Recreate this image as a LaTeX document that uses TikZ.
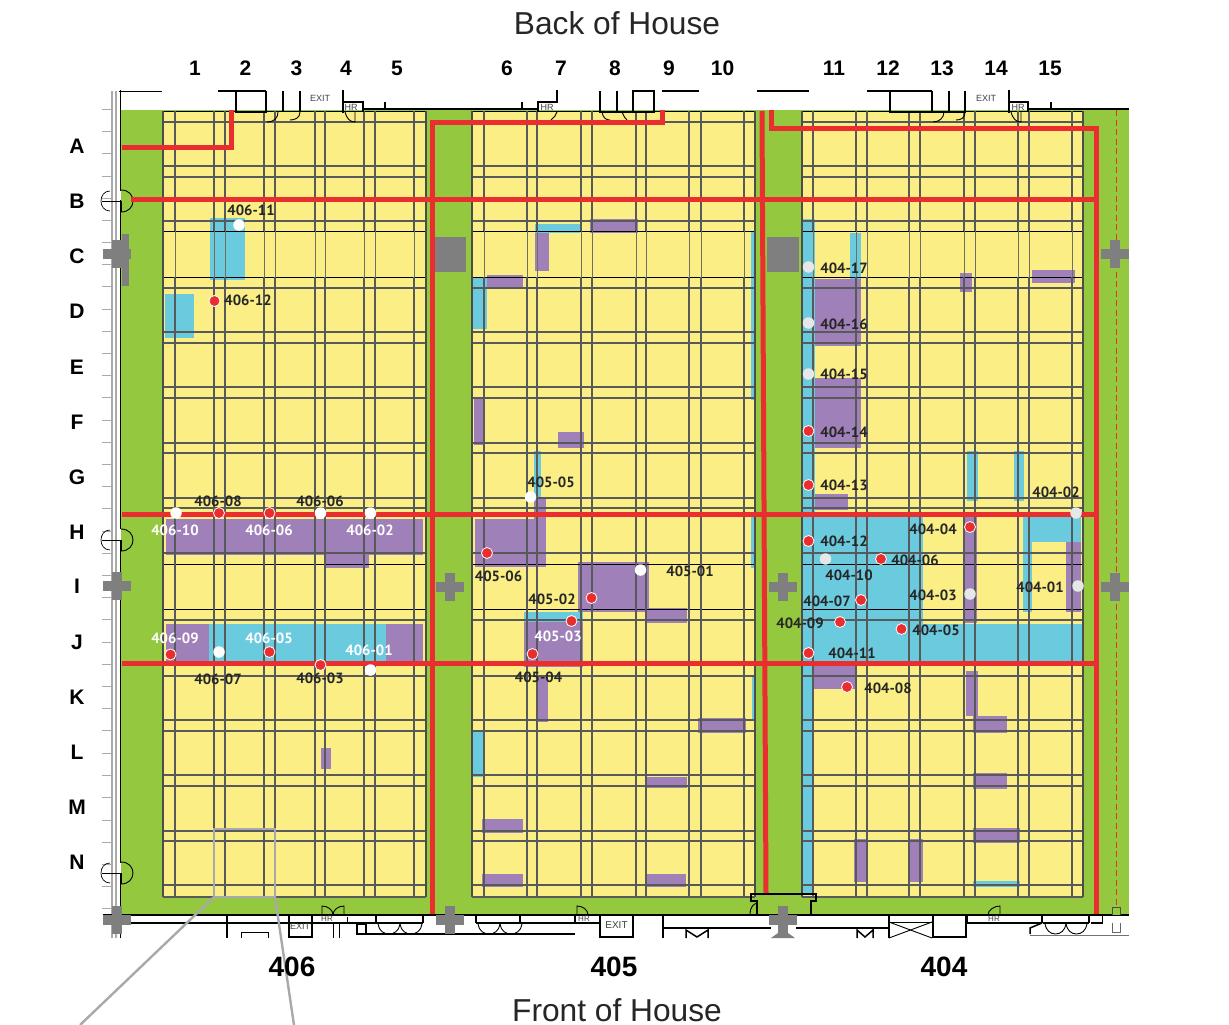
\documentclass[tikz,border=0pt]{standalone}
\usepackage{fontspec}
\setmainfont{Liberation Sans}
\newfontfamily\lblfont{PT Sans}
\definecolor{cgreen}{HTML}{94C83E}
\definecolor{cyell}{HTML}{FAEE85}
\definecolor{ccyan}{HTML}{6BCBDE}
\definecolor{cpurp}{HTML}{A080B8}
\definecolor{cred}{HTML}{EA2D2E}
\definecolor{cgray}{HTML}{7F7F7F}
\definecolor{cgrid}{HTML}{58595B}
\definecolor{cfade}{HTML}{6F6F62}
\definecolor{cwall}{HTML}{A9A9A9}
\definecolor{cdot}{HTML}{E6E7E8}
\definecolor{czoom}{HTML}{A7A9AC}
\tikzset{
  redline/.style={draw=cred,line width=5pt,line join=miter},
  gridline/.style={draw=cgrid,line width=1.2pt},
  fadeline/.style={draw=cfade,line width=1pt},
  blackgrid/.style={draw=black,line width=1pt},
  wallthick/.style={draw=black,line width=1.5pt},
  wallthin/.style={draw=black,line width=.9pt},
  reddot/.style={circle,fill=cred,draw=white,line width=.8pt,minimum size=11pt,inner sep=0pt},
  whitedot/.style={circle,fill=white,minimum size=11.5pt,inner sep=0pt},
  greydot/.style={circle,fill=cdot,minimum size=11.5pt,inner sep=0pt},
  lbl/.style={font=\lblfont\fontsize{14.8}{15}\selectfont\bfseries,text=black!85,inner sep=0pt,yshift=-.7pt},
  lblw/.style={lbl,text=white},
  axis/.style={font=\fontsize{21}{22}\selectfont\bfseries,text=black,inner sep=0pt},
  title/.style={font=\fontsize{31.7}{33}\selectfont,text=black!85,inner sep=0pt},
  sect/.style={font=\fontsize{28}{30}\selectfont\bfseries,text=black,inner sep=0pt},
  small/.style={font=\fontsize{9}{10}\selectfont,text=black!75,inner sep=0pt},
  zoombox/.style={draw=czoom,line width=2.4pt},
}
\begin{document}
\begin{tikzpicture}[x=1pt,y=-1pt]
\useasboundingbox (0,0) rectangle (1229,1025);
% green and yellow ground
\fill[cgreen] (121,110) rectangle (1129,915);
\fill[cyell] (163,111) rectangle (426,897);
\fill[cyell] (472,111) rectangle (755,897);
\fill[cyell] (802,111) rectangle (1083,897);
% cyan patches
\foreach \a/\b/\c/\d in {210/218/245/280,165/294/194/338,209/624/386/662,
 535/224/580/233,473/277/487/329,534/451/541/498,524/612/583/622,751/512/755/568,752/675/755/720,473/730/485/777,751/232/755/400,
 803/219/815/515,802/515/923/662,923/624/1083/662,802/662/813/893,850/233/861/279,967/451/978/501,1014/451/1024/501,
 1023/517/1032/612,1023/517/1081/542,973/881/1020/887}
  \fill[ccyan] (\a,\b) rectangle (\c,\d);
% purple patches
\foreach \a/\b/\c/\d in {166/519/423/555,326/555/369/568,166/624/209/662,386/624/423/662,321/748/331/769,
 535/233/549/271,590/219/638/233,487/275/523/289,474/397/485/445,558/432/584/448,534/498/546/519,475/519/546/567,
 578/562/649/612,645/608/687/623,524/622/583/667,537/677/548/722,698/718/746/733,645/777/687/788,482/819/523/833,482/874/523/887,645/874/686/887,
 815/279/861/346,815/378/861/448,960/273/972/292,1032/270/1075/283,815/494/848/510,963/515/977/623,1066/542/1081/612,
 814/663/855/689,966/671/978/716,973/716/1007/733,973/773/1007/789,973/828/1020/843,854/839/868/882,908/839/923/882}
  \fill[cpurp] (\a,\b) rectangle (\c,\d);
% grey blocks
\fill[cgray] (122,234) rectangle (129,286);
\fill[cgray] (435,237) rectangle (466,272);
\fill[cgray] (767,237) rectangle (799,272);
% grid: horizontals
\foreach \y in {122,166,177,221,288,332,343,387,398,443,453,498,508,553,620,665,676,720,731,775,786,831,841,885}{
  \draw[gridline] (163,\y) -- (426,\y);
  \draw[gridline] (472,\y) -- (755,\y);
  \draw[gridline] (802,\y) -- (1083,\y);
}
\foreach \y in {231,277,564,609}{
  \draw[blackgrid] (163,\y) -- (426,\y);
  \draw[blackgrid] (472,\y) -- (755,\y);
  \draw[blackgrid] (802,\y) -- (1083,\y);
}
\foreach \y in {111}{
  \draw[wallthin] (163,\y) -- (426,\y);
  \draw[wallthin] (472,\y) -- (755,\y);
  \draw[wallthin] (802,\y) -- (1083,\y);
}
% grid: verticals
\foreach \x in {175,214,225,264,275,315,325,364,375,414,484,527,537,581,592,636,646,689,701,744,813,856,867,909,920,964,975,1018,1029,1072}{
  \draw[gridline] (\x,111) -- (\x,231);
  \draw[fadeline] (\x,231) -- (\x,277);
  \draw[gridline] (\x,277) -- (\x,897);
}
\foreach \x in {163,426,472,755,802,1083}
  \draw[draw=black!70,line width=1.2pt] (\x,111) -- (\x,897);
\draw[gridline] (163,897) -- (426,897);
\draw[gridline] (472,897) -- (755,897);
\draw[gridline] (802,897) -- (1083,897);
% dashed line at right
\draw[draw=cred,line width=1pt,dash pattern=on 6pt off 3.5pt] (1116,110) -- (1116,907);
% left wall
\foreach \y in {109,131,153,176,198,220,242,264,286,309,331,353,375,397,420,442,464,486,508,531,553,575,597,619,642,664,686,708,730,753,775,797,820,842,864,886,908}
  \draw[draw=cwall,line width=1pt] (102,\y) -- (111,\y);
\draw[draw=cwall,line width=1.5pt] (112,91) -- (112,938);
\draw[draw=cwall,line width=1.5pt] (116,91) -- (116,938);
\foreach \a/\b in {90/191,200/529,540/863,873/938}
  \draw[draw=black,line width=1.4pt] (120.5,\a) -- (120.5,\b);
\draw[wallthin] (119,91) -- (162,91);
\foreach \y in {201,540,873}{
  \draw[wallthin] (121,\y-11) .. controls (137,\y-11) and (137,\y+11) .. (121,\y+11);
  \draw[draw=black,line width=.7pt] (110,\y-10) .. controls (98,\y-10) and (98,\y+10) .. (110,\y+10);
  \draw[draw=black,line width=.7pt] (102,\y) -- (120,\y);
  \draw[draw=black,line width=1.4pt] (121.5,\y) -- (121.5,\y+11);
}
% top wall, bay 406
\draw[wallthick] (218,91) -- (266,91);
\draw[wallthick] (236,91) -- (236,112) -- (266,112) -- (266,91);
\draw[wallthick] (283,91) -- (283,112);
\draw[wallthick] (300,91) -- (300,112);
\draw[wallthin] (267,122) .. controls (274,122) and (278,118) .. (278,112);
\draw[wallthin] (290,120) .. controls (295,120) and (300,118) .. (300,112);
\draw[wallthick] (343,90) -- (343,113);
\draw[wallthick] (343,102) -- (363,102) -- (363,112);
\draw[line width=2pt] (363,109) -- (538,109);
\draw[wallthick] (385,102) -- (385,109);
\draw[wallthin] (345,112) .. controls (347,119) and (350,122) .. (355,122) -- (355,112);
\node[small] (exitA) at (320,98) {EXIT};
\node[small] (hrA) at (351,107) {HR};
% top wall, bay 405
\draw[wallthick] (522,102) -- (522,109);
\draw[wallthick] (538,112) -- (538,102) -- (557,102) -- (557,90);
\draw[wallthin] (551,120) .. controls (554,118) and (556,115) .. (557,112);
\node[small] (hrB) at (547,107) {HR};
\draw[wallthick] (600,91) -- (600,112) -- (654,112) -- (654,91) -- (633,91) -- (633,112);
\draw[wallthick] (617,91) -- (617,112);
\draw[wallthin] (602,112) .. controls (603,118) and (606,120) .. (610,120);
\draw[wallthin] (622,112) .. controls (624,116) and (625,119) .. (627,120);
\draw[wallthick] (662,91) -- (699,91);
\draw[wallthick] (757,91) -- (809,91);
% top wall, bay 404
\draw[wallthick] (867,91) -- (932,91);
\draw[wallthick] (890,91) -- (890,112) -- (932,112) -- (932,91);
\draw[wallthick] (949,91) -- (949,112);
\draw[wallthick] (965,91) -- (965,112) -- (932,112);
\draw[wallthin] (933,122) .. controls (939,122) and (944,118) .. (944,112);
\draw[wallthin] (956,120) .. controls (961,120) and (965,118) .. (965,112);
\draw[wallthick] (1009,90) -- (1009,113);
\draw[wallthick] (1009,102) -- (1028,102) -- (1028,112);
\draw[line width=2pt] (1028,109) -- (1129,109);
\draw[wallthick] (1051,102) -- (1051,109);
\draw[wallthin] (1011,112) .. controls (1013,119) and (1016,122) .. (1021,122) -- (1021,112);
\node[small] (exitB) at (986,98) {EXIT};
\node[small] (hrC) at (1018,107) {HR};
% bottom wall
\draw[line width=2pt] (103,915) -- (1129,915);
\foreach \a/\b/\y in {122/347/923,339/376/923,376/423/923,437/463/923,476/575/923,575/600/923,967/1042/923,1043/1089/923,1091/1103/923}
  \draw[wallthick] (\a,\y) -- (\b,\y);
\draw[wallthin] (347,923) -- (347,917);
\foreach \x in {376,423,463,476,520,575,600,967,1042,1089,1103}
  \draw[wallthick] (\x,915) -- (\x,923);
\draw[wallthick] (227,915) -- (227,938);
\draw[wallthin] (241,938) -- (241,932) -- (268,932) -- (268,938);
\draw[wallthick] (289,915) -- (289,937) -- (312,937) -- (312,915);
\node[small] (exitC) at (300,926) {EXIT};
\draw[wallthin] (333,923) -- (333,938);
\draw[wallthin] (339,923) -- (339,938);
\draw[wallthick] (357,924) rectangle (366,934);
\draw[wallthick] (366,934) -- (575,934);
\foreach \x in {378,400,478,500}{
  \draw[wallthin] (\x,924) .. controls (\x+1,931) and (\x+6,934) .. (\x+11,934) .. controls (\x+16,934) and (\x+21,931) .. (\x+22,924);
}
\draw[wallthin] (322,915) -- (322,906) .. controls (328,906) and (333,910) .. (333,915);
\draw[wallthin] (344,915) -- (344,906) .. controls (338,906) and (333,910) .. (333,915);
\node[small,font=\fontsize{8}{9}\selectfont] (hrD) at (327,919) {HR};
\draw[wallthin] (577,915) -- (577,906) .. controls (583,906) and (588,910) .. (588,915);
\node[small,font=\fontsize{8}{9}\selectfont] (hrE) at (584,919) {HR};
\draw[wallthick] (600,916) -- (600,937) -- (633,937) -- (633,916);
\node[small,font=\fontsize{10}{11}\selectfont] (exitD) at (616.5,925) {EXIT};
\draw[wallthick] (663,915) -- (663,938);
\draw[wallthick] (663,928) -- (771,928);
\draw[wallthick] (796,928) -- (889,928);
\draw[wallthick] (686,938) -- (686,930) -- (697,937) -- (708,930) -- (708,938);
\draw[wallthick] (857,938) -- (857,930) -- (865,937) -- (873,930) -- (873,938);
\fill[cgray] (771,938) -- (778,933) -- (788,933) -- (795,938) -- cycle;
\draw[wallthick] (757,915) -- (757,901) -- (751,901) -- (751,894) -- (816,894) -- (816,901) -- (811,901) -- (811,915);
\draw[wallthin] (750,914) .. controls (750,908) and (753,904) .. (757,903);
\draw[wallthick] (889,915) -- (889,938);
\draw[wallthin] (889,922) -- (932,922);
\draw[wallthin] (889,938) -- (932,922);
\draw[wallthin] (889,922) -- (932,938);
\draw[wallthick] (933,915) -- (933,937) -- (966,937) -- (966,915);
\draw[wallthin] (988,915) .. controls (988,910) and (994,906) .. (1000,906) -- (1000,915);
\node[small,font=\fontsize{8}{9}\selectfont] (hrF) at (994,919) {HR};
\draw[wallthick] (1030,934) -- (1030,928) -- (1042,923);
\draw[draw=black!55,line width=1pt] (1030,935) -- (1129,935);
\foreach \x in {1045,1066}{
  \draw[wallthin] (\x,924) .. controls (\x+1,930) and (\x+5,934) .. (\x+10.5,934) .. controls (\x+16,934) and (\x+20,930) .. (\x+21,924);
}
% columns
\foreach \x/\y in {117/254,117/586,117/920,450/587,450/920,783/587,783/920,1115/254,1115/587}{
  \fill[cgray] (\x-14,\y-5) rectangle (\x+14,\y+5);
  \fill[cgray] (\x-5,\y-14) rectangle (\x+5,\y+14);
}
\fill[cgreen] (1112,907) rectangle (1120,915);
\draw[draw=black!70,line width=.8pt] (1112,915) -- (1112,907) -- (1120,907) -- (1120,915);
\fill[white] (1103,916) rectangle (1129,923);
\draw[draw=black!60,line width=.8pt] (1112,923) -- (1112,932) -- (1120,932) -- (1120,923);
% red runs
\draw[redline] (122,147) -- (231,147) -- (231,110);
\draw[redline] (131,199) -- (1096,199);
\draw[redline] (432,914) -- (432,122.5) -- (662,122.5) -- (662,110);
\draw[redline] (762,111) -- (766,893);
\draw[redline] (771,110) -- (771,128) -- (1096,128) -- (1096,914);
\draw[redline] (122,514) -- (1096,514);
\draw[redline] (122,663) -- (1096,663);
% enlargement box and its leaders
\coordinate (zbl) at (214,897);
\coordinate (zbr) at (275,897);
\coordinate (ztl) at (214,829);
\coordinate (ztr) at (275,829);
\coordinate (zfl) at (80,1025);
\coordinate (zfr) at (294,1025);
\draw[zoombox] (zbl) -- (ztl) -- (ztr) -- (zbr) -- cycle;
\draw[zoombox] (zbl) -- (zfl);
\draw[zoombox] (zbr) -- (zfr);
% dots
\foreach \n/\x/\y in {a1/214.5/301,a2/219/513,a3/269.5/513,a4/170.5/654.5,a5/269.5/652,a6/320.5/665,
 b1/487/553,b2/591.5/598,b3/571.5/621,b4/532.5/654,
 c1/808.5/431,c2/808.5/485,c3/808.5/541,c4/881/559,c5/861/600,c6/840/622,c7/901.5/629,c8/808.5/653,c9/847/687,c10/970/527}
  \node[reddot] (\n) at (\x,\y) {};
\foreach \n/\x/\y in {d1/239/225,d2/176/513,d3/320.5/513,d4/370.5/513,d5/219/652,d6/370.5/670,d7/530.5/497,d8/640.5/570}
  \node[whitedot] (\n) at (\x,\y) {};
\foreach \n/\x/\y in {e1/808.5/267,e2/808.5/323,e3/808.5/374,e4/825.5/559,e5/970/594,e6/1076/513,e7/1078/586}
  \node[greydot] (\n) at (\x,\y) {};
% black labels
\foreach \n/\x/\y/\t in {l1/251/210/406-11,l2/248/300/406-12,l3/218/501/406-08,l4/320/501/406-06,l5/218/679/406-07,l6/320/678/406-03,
 l7/551/482/405-05,l8/498.5/576/405-06,l9/690/571/405-01,l10/552/599/405-02,l11/538.5/677/405-04,
 l12/844/268/404-17,l13/844/324/404-16,l14/844/374/404-15,l15/844/432/404-14,l16/844/485/404-13,l17/844/541/404-12,
 l18/849/575/404-10,l19/915/560/404-06,l20/827/601/404-07,l21/800/623/404-09,l22/936/630/404-05,l23/852/653/404-11,
 l24/888/688/404-08,l25/933/529/404-04,l26/933/595/404-03,l27/1056/492/404-02,l28/1040/587/404-01}
  \node[lbl] (\n) at (\x,\y) {\t};
% white labels
\foreach \n/\x/\y/\t in {w1/175/530/406-10,w2/269/530/406-06,w3/370/530/406-02,w4/175/638/406-09,w5/269/638/406-05,w6/369/650/406-01,w7/558/636/405-03}
  \node[lblw] (\n) at (\x,\y) {\t};
% axis labels
\foreach \n/\x/\t in {n1/195/1,n2/245.5/2,n3/296.5/3,n4/346/4,n5/397/5,n6/507/6,n7/561/7,n8/615/8,n9/669/9,n10/722.5/10,n11/834/11,n12/888/12,n13/942/13,n14/996/14,n15/1050/15}
  \node[axis] (\n) at (\x,68.5) {\t};
\foreach \n/\y/\t in {ra/146.5/A,rb/201.5/B,rc/256.5/C,rd/311.5/D,re/367.5/E,rf/422.5/F,rg/477.5/G,rh/532.5/H,ri/586.5/I,rj/642.5/J,rk/697.5/K,rl/752.5/L,rm/807.5/M,rn/862.5/N}
  \node[axis] (\n) at (77,\y) {\t};
\node[title] (back) at (617,23) {Back of House};
\node[title] (front) at (617,1010) {Front of House};
\node[sect] (s406) at (292,966.5) {406};
\node[sect] (s405) at (614,966.5) {405};
\node[sect] (s404) at (944,966.5) {404};
\end{tikzpicture}
\end{document}
